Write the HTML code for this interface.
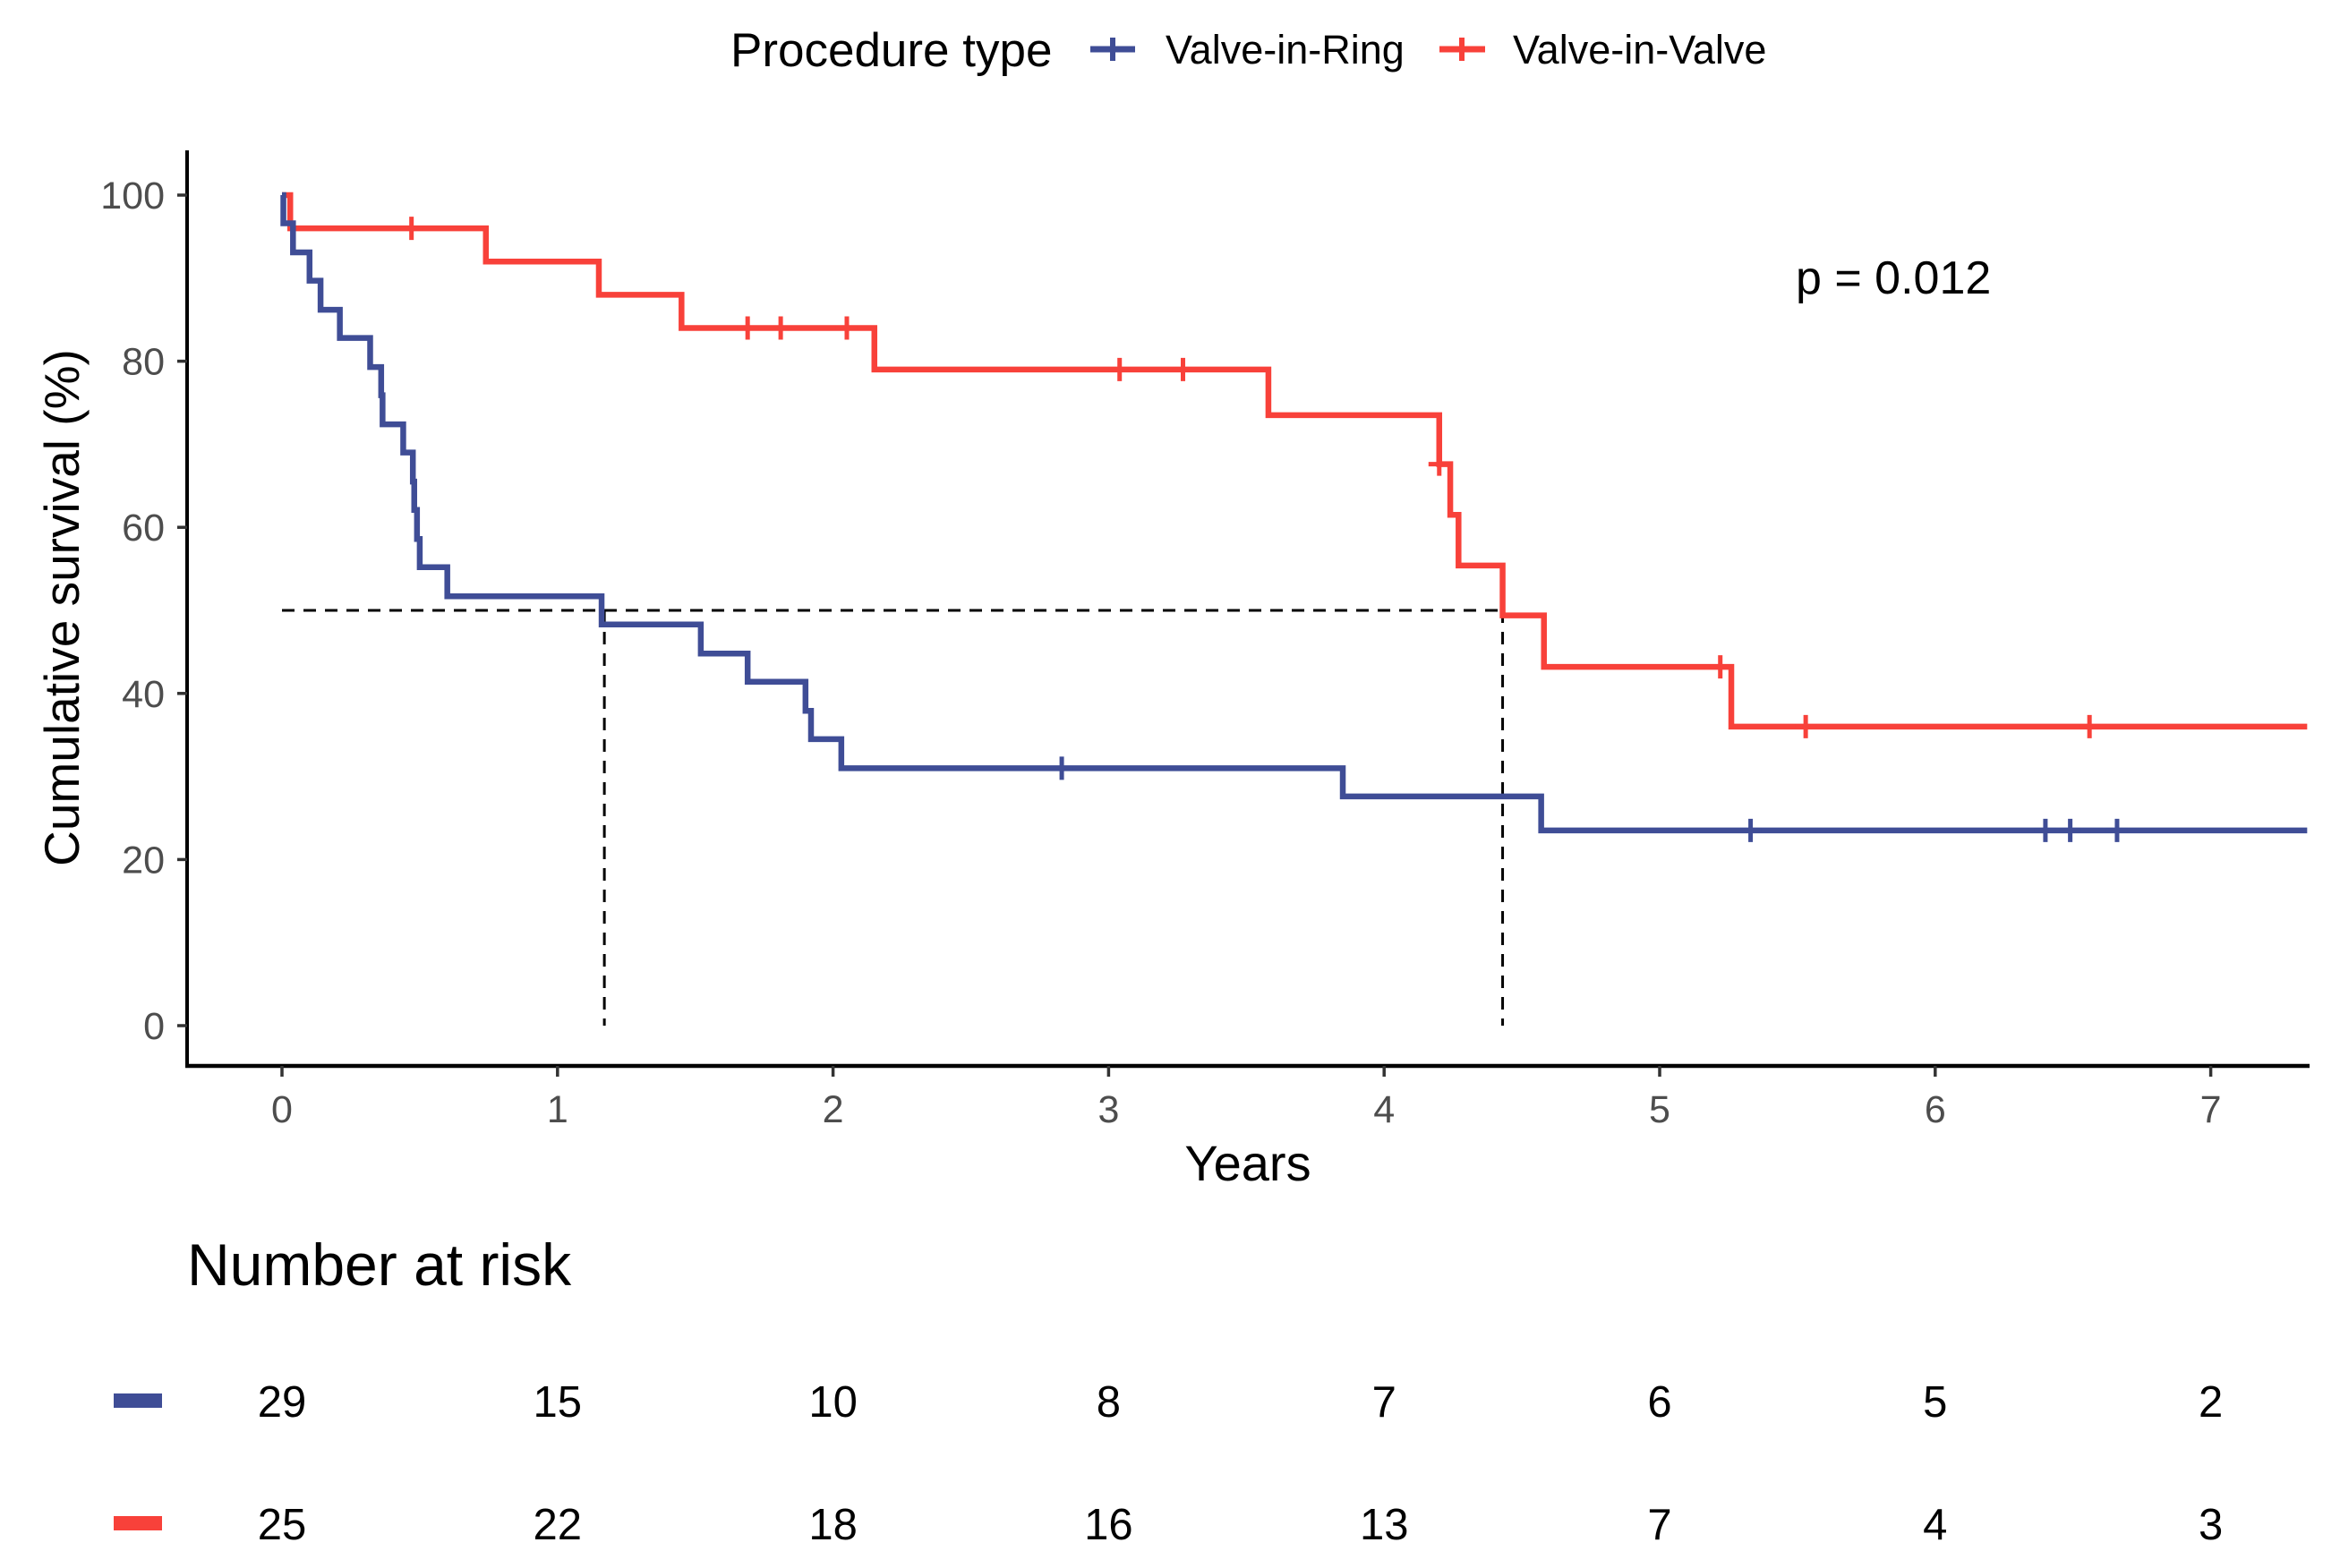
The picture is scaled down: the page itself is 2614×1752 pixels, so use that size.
<!DOCTYPE html>
<html><head><meta charset="utf-8"><style>
html,body{margin:0;padding:0;background:#fff;}
svg{display:block;font-family:"Liberation Sans",Arial,sans-serif;}
</style></head><body>
<svg id="chart" width="2614" height="1752" viewBox="0 0 2614 1752" xmlns="http://www.w3.org/2000/svg">
<g id="legend">
<text x="816" y="74" font-size="53" fill="#000">Procedure type</text>
<g>
<line x1="1218" y1="55" x2="1268" y2="55" stroke="#3F4D96" stroke-width="7"/>
<line x1="1243" y1="42" x2="1243" y2="68" stroke="#3F4D96" stroke-width="6"/>
<text x="1302" y="71" font-size="45" fill="#000">Valve-in-Ring</text></g>
<g>
<line x1="1608" y1="55" x2="1659" y2="55" stroke="#F8413A" stroke-width="7"/>
<line x1="1633" y1="42" x2="1633" y2="68" stroke="#F8413A" stroke-width="6"/>
<text x="1690" y="71" font-size="45" fill="#000">Valve-in-Valve</text></g>
</g>
<g id="axes"></g>
<g id="plot"></g>
<text x="2006" y="328" font-size="52" fill="#000">p = 0.012</text>
<text transform="translate(88,679) rotate(-90)" text-anchor="middle" font-size="55" fill="#000">Cumulative survival (%)</text>
<text x="1394" y="1319" text-anchor="middle" font-size="56" fill="#000">Years</text>
<text x="209" y="1436" font-size="66" fill="#000">Number at risk</text>
<g id="risk"></g>
</svg>
<script>
const yearTicks=[0,1,2,3,4,5,6,7];
const survTicks=[0,20,40,60,80,100];
const ringTimes=[0,0.005,0.04,0.1,0.14,0.21,0.32,0.36,0.365,0.44,0.475,0.48,0.49,0.5,0.6,1.16,1.52,1.69,1.9,1.92,2.03,3.85,4.57];
const ringSurv=[100,96.6,93.1,89.7,86.2,82.8,79.3,75.9,72.4,69.0,65.5,62.1,58.6,55.2,51.7,48.3,44.8,41.4,37.9,34.5,31.0,27.6,23.5];
const ringCensor=[2.83,5.33,6.4,6.49,6.66];
const valveTimes=[0,0.03,0.74,1.15,1.45,2.15,3.58,4.2,4.24,4.27,4.43,4.58,5.26];
const valveSurv=[100,96,92,88,84,79,73.5,67.6,61.5,55.4,49.4,43.2,36];
const valveCensor=[0.47,1.69,1.81,2.05,3.04,3.27,4.2,5.22,5.53,6.56];
const medianTimes=[1.17,4.43];
const riskRing=[29,15,10,8,7,6,5,2];
const riskValve=[25,22,18,16,13,7,4,3];
const xMax=7.35;
const NS='http://www.w3.org/2000/svg';
const X=t=>315+t*307.8;
const Y=s=>1146-s*9.28;
function mk(tag,attrs,parent){const e=document.createElementNS(NS,tag);for(const k in attrs)e.setAttribute(k,attrs[k]);parent.appendChild(e);return e;}
const axes=document.getElementById('axes'),plot=document.getElementById('plot'),risk=document.getElementById('risk');
let a=mk('line',{x1:209,y1:168,x2:209,y2:1193,stroke:'#000','stroke-width':4},axes);


a=mk('line',{x1:207,y1:1191,x2:2580,y2:1191,stroke:'#000','stroke-width':4.5},axes);


survTicks.forEach(v=>{
 mk('line',{x1:198,y1:Y(v),x2:209,y2:Y(v),stroke:'#333','stroke-width':3.5},axes);
 const t=mk('text',{x:184,y:Y(v)+15,'text-anchor':'end','font-size':43,fill:'#4d4d4d'},axes);
 t.textContent=v;
 
 
});
yearTicks.forEach(v=>{
 mk('line',{x1:X(v),y1:1191,x2:X(v),y2:1203,stroke:'#333','stroke-width':3.5},axes);
 const t=mk('text',{x:X(v),y:1254,'text-anchor':'middle','font-size':43,fill:'#4d4d4d'},axes);
 t.textContent=v;
 
 
});
let d='M'+X(0)+' '+Y(50)+' H'+X(Math.max(...medianTimes));
medianTimes.forEach(m=>{d+=' M'+X(m)+' '+Y(50)+' V'+Y(0);});
let ml=mk('path',{d:d,stroke:'#000','stroke-width':3,'stroke-dasharray':'14 10',fill:'none'},plot);


function curve(times,surv,censor,color,name){
 let p='M'+X(times[0])+' '+Y(surv[0]);
 for(let i=1;i<times.length;i++){p+=' H'+X(times[i])+' V'+Y(surv[i]);}
 p+=' H'+X(xMax);
 const c=mk('path',{d:p,stroke:color,'stroke-width':6.5,fill:'none'},plot);
 
 
 censor.forEach(t=>{
  let s=surv[0];for(let i=0;i<times.length;i++){if(times[i]<=t)s=surv[i];}
  const m=mk('path',{d:'M'+(X(t)-12)+' '+Y(s)+' h24 M'+X(t)+' '+(Y(s)-13)+' v26',stroke:color,'stroke-width':5,fill:'none'},plot);
  
  
 });
}
curve(valveTimes,valveSurv,valveCensor,'#F8413A','valve-in-valve');
curve(ringTimes,ringSurv,ringCensor,'#3F4D96','valve-in-ring');
function riskRow(vals,y,color,name){
 const r=mk('rect',{x:127,y:y-26,width:54,height:16,fill:color},risk);
 
 
 vals.forEach((v,i)=>{
  const t=mk('text',{x:X(yearTicks[i]),y:y,'text-anchor':'middle','font-size':49,fill:'#000'},risk);
  t.textContent=v;
  
  
 });
}
riskRow(riskRing,1583,'#3F4D96','valve-in-ring');
riskRow(riskValve,1720,'#F8413A','valve-in-valve');
</script>
</body></html>
